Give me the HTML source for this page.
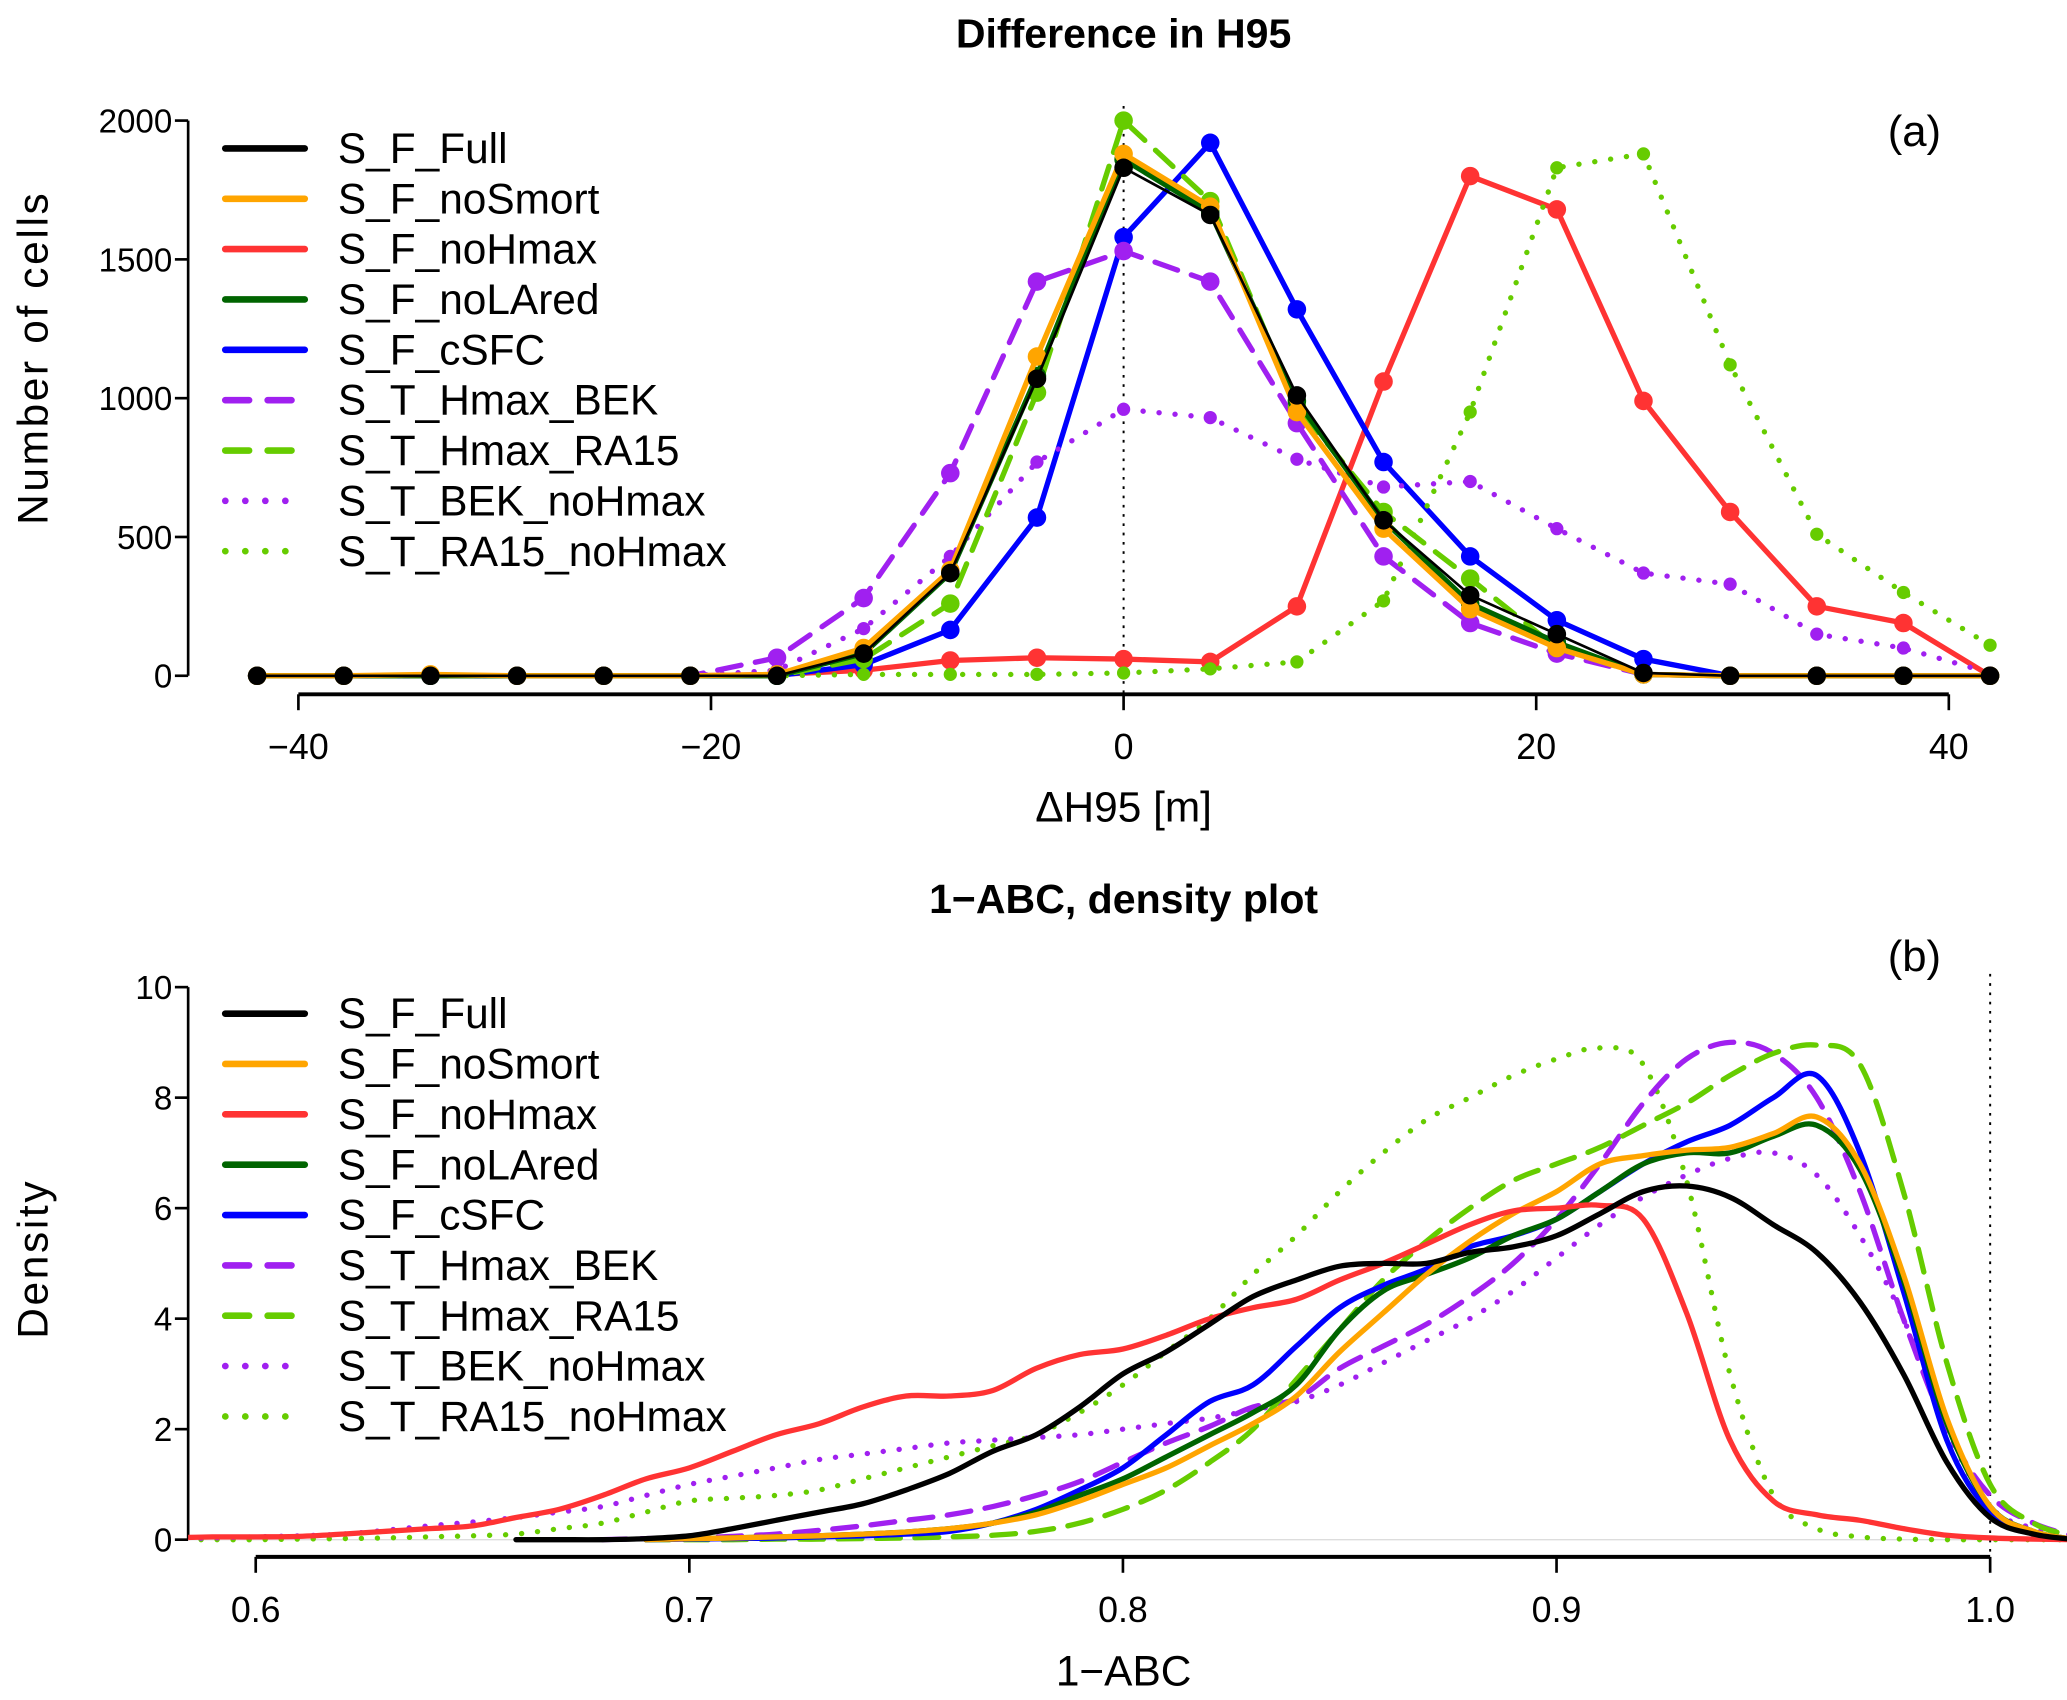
<!DOCTYPE html>
<html><head><meta charset="utf-8"><style>
html,body{margin:0;padding:0;background:#fff}
svg{display:block}
text{font-family:"Liberation Sans",sans-serif;fill:#000}
</style></head><body>
<svg id="svg" width="2067" height="1700" viewBox="0 0 1560 1283" xmlns="http://www.w3.org/2000/svg">
<defs>
<clipPath id="clipB"><rect x="142" y="700" width="1418" height="470"/></clipPath>
</defs>
<g id="pa"></g>
<g id="pb"></g>
</svg>
<script>
// ---- Panel (a) data ----
const aX = [-42,-37.8,-33.6,-29.4,-25.2,-21,-16.8,-12.6,-8.4,-4.2,0,4.2,8.4,12.6,16.8,21,25.2,29.4,33.6,37.8,42];
const aFull = [0,0,0,0,0,0,0,80,370,1070,1830,1660,1010,560,290,150,10,0,0,0,0];
const aNoSmort = [0,0,5,0,0,0,5,100,380,1150,1880,1690,950,530,240,100,5,0,0,0,0];
const aNoHmax = [0,0,0,0,0,0,5,20,55,65,60,50,250,1060,1800,1680,990,590,250,190,0];
const aNoLAred = [0,0,0,0,0,0,0,80,370,1080,1860,1670,990,560,260,120,5,0,0,0,0];
const aCSFC = [0,0,0,0,0,0,0,40,165,570,1580,1920,1320,770,430,200,60,0,0,0,0];
const aHmaxBEK = [0,0,0,0,0,0,65,280,730,1420,1530,1420,910,430,190,80,5,0,0,0,0];
const aHmaxRA15 = [0,0,0,0,0,0,0,60,260,1020,2000,1710,970,590,350,100,5,0,0,0,0];
const aBEKnoHmax = [0,0,0,0,0,0,20,170,430,770,960,930,780,680,700,530,370,330,150,100,10];
const aRA15noHmax = [0,0,0,0,0,0,0,5,5,5,10,25,50,270,950,1830,1880,1120,510,300,110];
const aXTicks = [-40,-20,0,20,40];
const aYTicks = [0,500,1000,1500,2000];

// ---- Panel (b) data ----
const bX = [0.58,0.59,0.60,0.61,0.62,0.63,0.64,0.65,0.66,0.67,0.68,0.69,0.70,0.71,0.72,0.73,0.74,0.75,0.76,0.77,0.78,0.79,0.80,0.81,0.82,0.83,0.84,0.85,0.86,0.87,0.88,0.89,0.90,0.91,0.92,0.93,0.94,0.95,0.96,0.97,0.98,0.99,1.00,1.01,1.02];
const N8=[null,null,null,null,null,null,null,null], N10=N8.concat([null,null]), N11=N10.concat([null]);
const bFull = N8.concat([0,0,0,0.02,0.07,0.2,0.35,0.5,0.65,0.9,1.2,1.6,1.9,2.4,3.0,3.4,3.9,4.4,4.7,4.95,5.0,5.0,5.2,5.3,5.5,5.9,6.3,6.4,6.2,5.7,5.2,4.3,3.0,1.4,0.4,0.1,0]);
const bNoSmort = N11.concat([0,0.02,0.03,0.05,0.07,0.1,0.14,0.2,0.3,0.45,0.7,1.0,1.3,1.7,2.1,2.6,3.4,4.1,4.8,5.4,5.9,6.3,6.8,6.95,7.05,7.1,7.35,7.65,6.8,4.8,2.2,0.6,0.15,0]);
const bNoHmax = [0.03,0.05,0.05,0.06,0.1,0.15,0.2,0.25,0.4,0.55,0.8,1.1,1.3,1.6,1.9,2.1,2.4,2.6,2.6,2.7,3.1,3.35,3.45,3.7,4.0,4.2,4.35,4.7,5.0,5.35,5.7,5.95,6.0,6.05,5.8,4.1,1.8,0.7,0.45,0.35,0.2,0.08,0.03,0.01,0];
const bNoLAred = N11.concat([0,0.02,0.03,0.05,0.07,0.1,0.14,0.2,0.3,0.5,0.8,1.1,1.5,1.9,2.3,2.8,3.8,4.5,4.8,5.1,5.5,5.8,6.3,6.8,7.0,7.0,7.3,7.5,6.7,4.7,2.1,0.6,0.15,0]);
const bCSFC = N11.concat([0,0.01,0.02,0.03,0.05,0.07,0.1,0.15,0.3,0.55,0.9,1.3,1.9,2.5,2.8,3.5,4.2,4.6,4.9,5.3,5.5,5.8,6.3,6.8,7.2,7.5,8.0,8.4,7.0,4.5,1.8,0.5,0.1,0]);
const bHmaxBEK = N10.concat([0,0.02,0.03,0.06,0.1,0.17,0.25,0.35,0.45,0.6,0.8,1.05,1.4,1.75,2.05,2.4,2.55,3.1,3.5,3.9,4.4,5.0,5.8,6.8,7.9,8.7,9.0,8.8,8.0,6.3,4.0,2.0,0.8,0.3,0.05]);
const bHmaxRA15 = N11.concat([0,0,0,0.01,0.01,0.02,0.03,0.05,0.08,0.15,0.3,0.55,0.9,1.4,2.0,2.9,3.8,4.7,5.4,6.0,6.5,6.8,7.1,7.5,7.9,8.4,8.8,8.95,8.6,6.3,3.2,1.0,0.3,0.05]);
const bBEKnoHmax = [0.02,0.03,0.05,0.07,0.1,0.17,0.25,0.32,0.4,0.5,0.6,0.8,1.0,1.15,1.3,1.45,1.55,1.65,1.75,1.8,1.85,1.9,2.0,2.1,2.2,2.35,2.5,2.8,3.2,3.6,4.0,4.5,5.1,5.7,6.2,6.6,6.9,7.0,6.6,5.5,4.0,2.0,0.6,0.2,0];
const bRA15noHmax = [0,0,0,0.01,0.02,0.03,0.05,0.07,0.1,0.2,0.3,0.5,0.7,0.75,0.8,0.9,1.1,1.3,1.5,1.7,1.9,2.3,2.8,3.4,4.0,4.8,5.5,6.3,7.0,7.6,8.0,8.4,8.7,8.9,8.6,6.5,3.0,0.8,0.2,0.05,0.01,0,0,0,0];
const bXTicks = [0.6,0.7,0.8,0.9,1.0];
const bXTickLabels = ["0.6","0.7","0.8","0.9","1.0"];
const bYTicks = [0,2,4,6,8,10];

const names = ["S_F_Full","S_F_noSmort","S_F_noHmax","S_F_noLAred","S_F_cSFC","S_T_Hmax_BEK","S_T_Hmax_RA15","S_T_BEK_noHmax","S_T_RA15_noHmax"];
const colors = ["#000000","#FFA500","#FF3333","#006400","#0000FF","#A020F0","#66CC00","#A020F0","#66CC00"];
const styles = ["solid","solid","solid","solid","solid","dash","dash","dot","dot"];

const NS="http://www.w3.org/2000/svg";
function mk(parent,tag,attrs,txt){const e=document.createElementNS(NS,tag);for(const k in attrs)e.setAttribute(k,attrs[k]);if(txt!==undefined)e.textContent=txt;parent.appendChild(e);return e;}
function dashFor(s){return s==="dash"?"18 11":s==="dot"?"0.1 12":"none";}

const axA=x=>848+(x)*15.57, ayA=y=>510-y*(419/2000);
const axB=x=>193+(x-0.6)*3272.5, ayB=y=>1162-y*41.7;

const pa=document.getElementById('pa'), pb=document.getElementById('pb');
const TICK=25, XTICK=27, AXT=32, TITLE=31, LEG=32;

// ---- Panel a ----
let t=mk(pa,'text',{x:848,y:36,'text-anchor':'middle','font-size':TITLE,'font-weight':'bold'},'Difference in H95');

t=mk(pa,'text',{x:1465,y:110,'text-anchor':'end','font-size':33},'(a)');

let l=mk(pa,'line',{x1:142,y1:ayA(0),x2:142,y2:ayA(2000),stroke:'#000','stroke-width':2});

aYTicks.forEach(v=>{
  mk(pa,'line',{x1:132,y1:ayA(v),x2:142,y2:ayA(v),stroke:'#000','stroke-width':2});
  const tt=mk(pa,'text',{x:130,y:ayA(v)+9,'text-anchor':'end','font-size':TICK},String(v));
  
});
l=mk(pa,'line',{x1:axA(-40),y1:524,x2:axA(40),y2:524,stroke:'#000','stroke-width':3});

aXTicks.forEach(v=>{
  mk(pa,'line',{x1:axA(v),y1:524,x2:axA(v),y2:536,stroke:'#000','stroke-width':2});
  const tt=mk(pa,'text',{x:axA(v),y:573,'text-anchor':'middle','font-size':XTICK},v<0?'\u2212'+(-v):String(v));
  
});
t=mk(pa,'text',{x:848,y:620,'text-anchor':'middle','font-size':AXT},'\u0394H95 [m]');

t=mk(pa,'text',{x:0,y:0,'text-anchor':'middle','font-size':AXT,'letter-spacing':'2',transform:'translate(36,270) rotate(-90)'},'Number of cells');

mk(pa,'line',{x1:848,y1:80,x2:848,y2:524,stroke:'#000','stroke-width':1.5,'stroke-dasharray':'2 5'});

const aSeries=[aFull,aNoSmort,aNoHmax,aNoLAred,aCSFC,aHmaxBEK,aHmaxRA15,aBEKnoHmax,aRA15noHmax];
const drawOrderA=[2,4,5,7,8,6,3,1,0];
drawOrderA.forEach(i=>{
  const g=mk(pa,'g',{});
  
  
  const pts=aSeries[i].map((v,j)=>axA(aX[j]).toFixed(1)+','+ayA(v).toFixed(1)).join(' ');
  const w = i===0?2:4;
  mk(g,'polyline',{points:pts,fill:'none',stroke:colors[i],'stroke-width':w,'stroke-dasharray':dashFor(styles[i]),'stroke-linecap':'round','stroke-linejoin':'round'});
  aSeries[i].forEach((v,j)=>{
    const c=mk(g,'circle',{cx:axA(aX[j]),cy:ayA(v),r:styles[i]==='dot'?5:7,fill:colors[i]});
    
    
  });
});

function legend(parent,y0,pfx){
  names.forEach((n,i)=>{
    const g=mk(parent,'g',{});
    
    
    const y=y0+i*38;
    mk(g,'line',{x1:170,y1:y,x2:230,y2:y,stroke:colors[i],'stroke-width':5,'stroke-dasharray':styles[i]==='dash'?'18 14':styles[i]==='dot'?'0.1 15':'none','stroke-linecap':'round'});
    mk(g,'text',{x:255,y:y+11,'font-size':LEG},n);
  });
}
legend(pa,112,'a');

// ---- Panel b ----
t=mk(pb,'text',{x:848,y:689,'text-anchor':'middle','font-size':TITLE,'font-weight':'bold'},'1\u2212ABC, density plot');

t=mk(pb,'text',{x:1465,y:733,'text-anchor':'end','font-size':33},'(b)');

l=mk(pb,'line',{x1:142,y1:ayB(0),x2:142,y2:ayB(10),stroke:'#000','stroke-width':2});

bYTicks.forEach(v=>{
  mk(pb,'line',{x1:132,y1:ayB(v),x2:142,y2:ayB(v),stroke:'#000','stroke-width':2});
  const tt=mk(pb,'text',{x:130,y:ayB(v)+9,'text-anchor':'end','font-size':TICK},String(v));
  
});
l=mk(pb,'line',{x1:axB(0.6),y1:1175,x2:axB(1.0),y2:1175,stroke:'#000','stroke-width':3});

bXTicks.forEach((v,k)=>{
  mk(pb,'line',{x1:axB(v),y1:1175,x2:axB(v),y2:1187,stroke:'#000','stroke-width':2});
  const tt=mk(pb,'text',{x:axB(v),y:1224,'text-anchor':'middle','font-size':XTICK},bXTickLabels[k]);
  
});
t=mk(pb,'text',{x:848,y:1272,'text-anchor':'middle','font-size':AXT},'1\u2212ABC');

t=mk(pb,'text',{x:0,y:0,'text-anchor':'middle','font-size':AXT,'letter-spacing':'2',transform:'translate(36,950) rotate(-90)'},'Density');

mk(pb,'line',{x1:142,y1:ayB(0),x2:1555,y2:ayB(0),stroke:'#ddd','stroke-width':1});
mk(pb,'line',{x1:axB(1.0),y1:735,x2:axB(1.0),y2:1175,stroke:'#000','stroke-width':1.5,'stroke-dasharray':'2 5'});

function smoothPath(pts){
  let d='M'+pts[0][0].toFixed(1)+','+pts[0][1].toFixed(1);
  for(let i=0;i<pts.length-1;i++){
    const p0=pts[Math.max(0,i-1)],p1=pts[i],p2=pts[i+1],p3=pts[Math.min(pts.length-1,i+2)];
    const c1x=p1[0]+(p2[0]-p0[0])/6,c1y=p1[1]+(p2[1]-p0[1])/6;
    const c2x=p2[0]-(p3[0]-p1[0])/6,c2y=p2[1]-(p3[1]-p1[1])/6;
    d+=' C'+c1x.toFixed(1)+','+c1y.toFixed(1)+' '+c2x.toFixed(1)+','+c2y.toFixed(1)+' '+p2[0].toFixed(1)+','+p2[1].toFixed(1);
  }
  return d;
}
const bSeries=[bFull,bNoSmort,bNoHmax,bNoLAred,bCSFC,bHmaxBEK,bHmaxRA15,bBEKnoHmax,bRA15noHmax];
const clipG=mk(pb,'g',{'clip-path':'url(#clipB)'});
const drawOrderB=[8,7,5,6,4,3,1,2,0];
drawOrderB.forEach(i=>{
  const pts=[];
  bSeries[i].forEach((v,j)=>{ if(v!==null) pts.push([axB(bX[j]),ayB(v)]); });
  const p=mk(clipG,'path',{d:smoothPath(pts),fill:'none',stroke:colors[i],'stroke-width':4,'stroke-dasharray':dashFor(styles[i]),'stroke-linecap':'round','stroke-linejoin':'round'});
  
  
});
legend(pb,765,'b');
</script>
</body></html>
